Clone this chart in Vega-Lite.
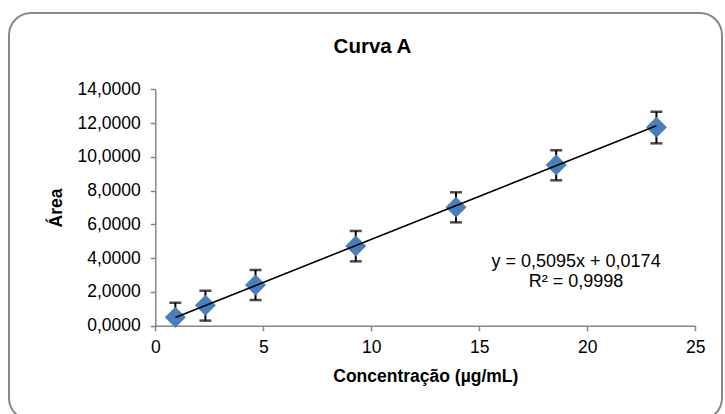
{
  "$schema": "https://vega.github.io/schema/vega-lite/v6.json",
  "autosize": "none",
  "width": 713,
  "height": 407,
  "padding": {"left": 9, "top": 13, "right": 3, "bottom": -6},
  "background": "white",
  "title": {
    "text": "Curva A",
    "anchor": "middle",
    "frame": "group",
    "baseline": "alphabetic",
    "offset": -60,
    "dx": 7,
    "font": "Liberation Sans",
    "fontSize": 20.5,
    "fontWeight": "bold",
    "color": "black"
  },
  "datasets": {
    "medidas": [
      {"conc": 0.928, "area": 0.50, "lo": -0.38, "hi": 1.36},
      {"conc": 2.32, "area": 1.21, "lo": 0.30, "hi": 2.07},
      {"conc": 4.64, "area": 2.41, "lo": 1.52, "hi": 3.30},
      {"conc": 9.28, "area": 4.72, "lo": 3.81, "hi": 5.61},
      {"conc": 13.92, "area": 7.01, "lo": 6.12, "hi": 7.90},
      {"conc": 18.56, "area": 9.52, "lo": 8.61, "hi": 10.39},
      {"conc": 23.2, "area": 11.75, "lo": 10.80, "hi": 12.67}
    ],
    "ajuste": [
      {"conc": 0.928, "area": 0.4902},
      {"conc": 23.2, "area": 11.8378}
    ],
    "equacao": [
      {"conc": 19.48, "area": 3.46, "rotulo": "y = 0,5095x + 0,0174"},
      {"conc": 19.48, "area": 2.31, "rotulo": "R² = 0,9998"}
    ]
  },
  "layer": [
    {
      "data": {"name": "medidas"},
      "mark": {"type": "rule", "color": "black", "strokeWidth": 2},
      "encoding": {
        "x": {
          "field": "conc",
          "type": "quantitative",
          "scale": {"domain": [0, 25], "range": [146.3, 686.3], "padding": 0, "nice": false, "zero": false},
          "axis": {
            "title": "Concentração (µg/mL)",
            "values": [0, 5, 10, 15, 20, 25],
            "offset": -94.3,
            "grid": false,
            "labelFlush": false,
            "domainColor": "#868686",
            "domainWidth": 1.5,
            "tickColor": "#868686",
            "tickWidth": 1.5,
            "tickSize": 5,
            "labelFontSize": 17.5,
            "labelColor": "black",
            "labelPadding": 8,
            "titleFontSize": 17.5,
            "titleFontWeight": "bold",
            "titleColor": "black",
            "titlePadding": 11
          }
        },
        "y": {
          "field": "lo",
          "type": "quantitative",
          "scale": {"domain": [0, 14], "range": [312.7, 76.3], "padding": 0, "nice": false, "zero": false, "clamp": true},
          "axis": {
            "title": "Área",
            "values": [0, 2, 4, 6, 8, 10, 12, 14],
            "labelExpr": "replace(format(datum.value, '.4f'), '.', ',')",
            "offset": -146.3,
            "grid": false,
            "labelFlush": false,
            "domainColor": "#868686",
            "domainWidth": 1.5,
            "tickColor": "#868686",
            "tickWidth": 1.5,
            "tickSize": 5,
            "labelFontSize": 17.5,
            "labelColor": "black",
            "labelPadding": 10,
            "titleFontSize": 17.5,
            "titleFontWeight": "bold",
            "titleColor": "black",
            "titlePadding": 12
          }
        },
        "y2": {"field": "hi"}
      }
    },
    {
      "data": {"name": "medidas"},
      "mark": {"type": "tick", "orient": "horizontal", "color": "black", "size": 12, "thickness": 2.5},
      "encoding": {
        "x": {"field": "conc", "type": "quantitative"},
        "y": {"field": "hi", "type": "quantitative"}
      }
    },
    {
      "data": {"name": "medidas"},
      "transform": [{"filter": "datum.lo >= 0"}],
      "mark": {"type": "tick", "orient": "horizontal", "color": "black", "size": 12, "thickness": 2.5},
      "encoding": {
        "x": {"field": "conc", "type": "quantitative"},
        "y": {"field": "lo", "type": "quantitative"}
      }
    },
    {
      "data": {"name": "medidas"},
      "mark": {"type": "point", "shape": "diamond", "filled": true, "size": 441, "color": "#4A7EBB", "opacity": 1},
      "encoding": {
        "x": {"field": "conc", "type": "quantitative"},
        "y": {"field": "area", "type": "quantitative"}
      }
    },
    {
      "data": {"name": "ajuste"},
      "mark": {"type": "line", "color": "black", "strokeWidth": 1.6},
      "encoding": {
        "x": {"field": "conc", "type": "quantitative"},
        "y": {"field": "area", "type": "quantitative"}
      }
    },
    {
      "data": {"name": "equacao"},
      "mark": {"type": "text", "align": "center", "baseline": "alphabetic", "fontSize": 18, "color": "black"},
      "encoding": {
        "x": {"field": "conc", "type": "quantitative"},
        "y": {"field": "area", "type": "quantitative"},
        "text": {"field": "rotulo"}
      }
    }
  ],
  "config": {
    "font": "Liberation Sans",
    "view": {"stroke": "#898989", "strokeWidth": 2, "cornerRadius": 22, "fill": "white"},
    "axis": {"labelFont": "Liberation Sans", "titleFont": "Liberation Sans"},
    "text": {"font": "Liberation Sans"}
  }
}
